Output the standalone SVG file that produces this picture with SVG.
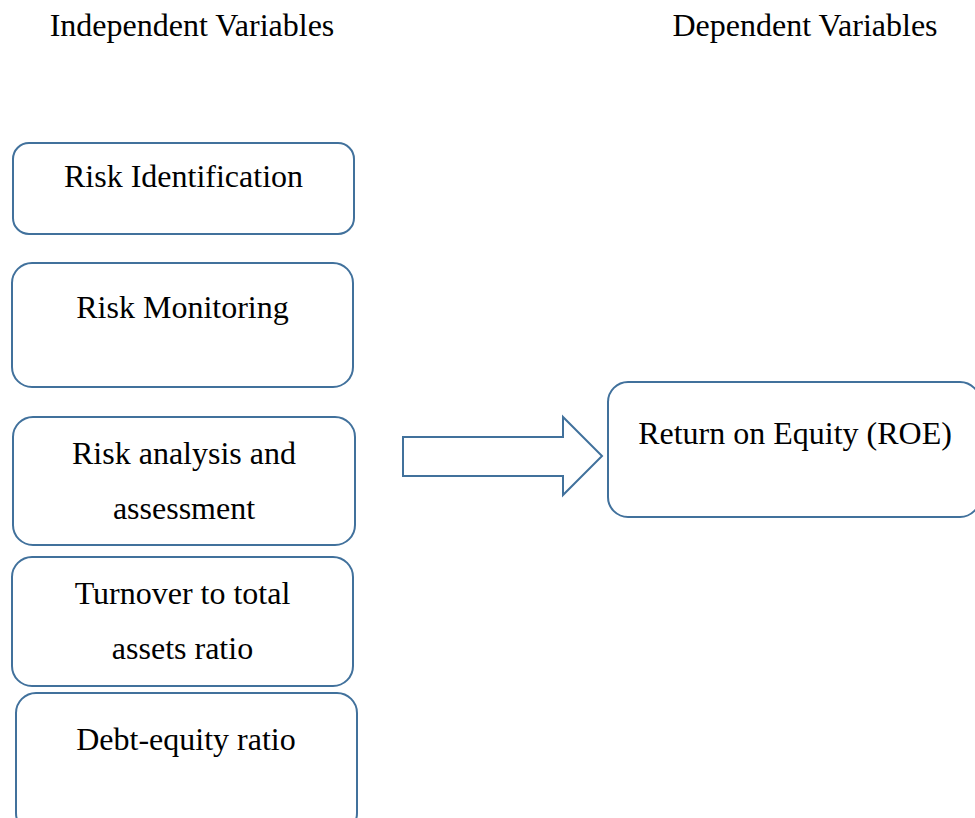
<svg xmlns="http://www.w3.org/2000/svg" width="975" height="818" viewBox="0 0 975 818">
<style>
.box{fill:#fff;stroke:#41719C;stroke-width:2}
.t{font-family:"Liberation Serif","Times New Roman",serif;font-size:32px;fill:#000;text-anchor:middle}
</style>
<rect width="975" height="818" fill="#fff"/>
<text class="t" x="192" y="36">Independent Variables</text>
<text class="t" x="805" y="36">Dependent Variables</text>
<g id="n1"><rect class="box" x="13" y="143" width="341" height="91" rx="16"/><text class="t" x="183.5" y="187">Risk Identification</text></g>
<g id="n2"><rect class="box" x="12" y="263" width="341" height="124" rx="20"/><text class="t" x="182.5" y="318">Risk Monitoring</text></g>
<g id="n3"><rect class="box" x="13" y="417" width="342" height="128" rx="20"/><text class="t" x="184" y="464">Risk analysis and</text><text class="t" x="184" y="519">assessment</text></g>
<g id="n4"><rect class="box" x="12" y="557" width="341" height="129" rx="20"/><text class="t" x="182.5" y="604">Turnover to total</text><text class="t" x="182.5" y="659">assets ratio</text></g>
<g id="n5"><rect class="box" x="16" y="693" width="341" height="140" rx="20"/><text class="t" x="186" y="750">Debt-equity ratio</text></g>
<g id="n6"><rect class="box" x="608" y="382" width="372" height="135" rx="20"/><text class="t" x="795" y="444">Return on Equity (ROE)</text></g>
<g id="connectors"><path class="box" d="M403 437 H563 V417 L602 456 L563 495 V476 H403 Z"/></g>
</svg>
